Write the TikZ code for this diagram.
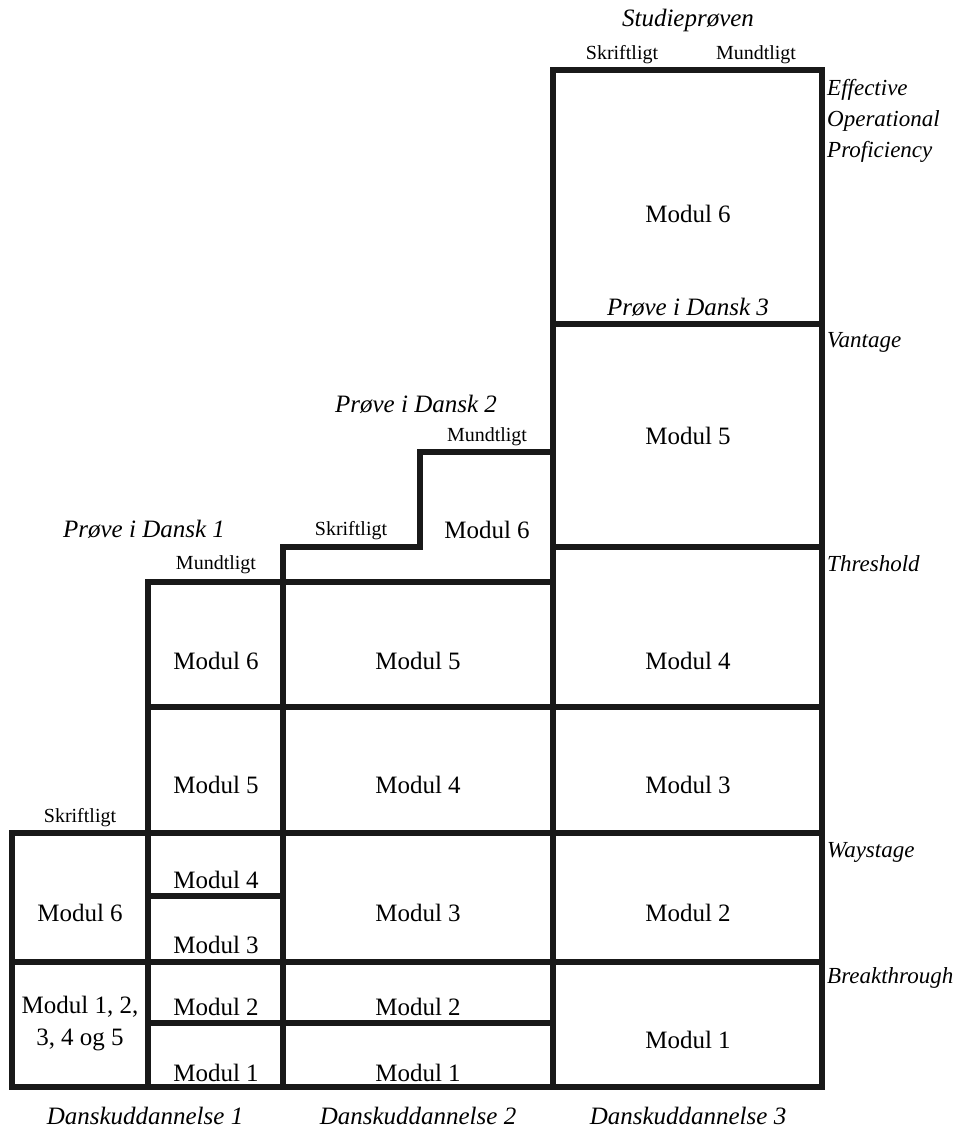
\documentclass[tikz,border=0pt]{standalone}
\usepackage{fontspec}
\setmainfont{Liberation Serif}
\begin{document}
\begin{tikzpicture}[x=1pt,y=-1pt,
  wall/.style={line width=5.5pt,black!90,line cap=rect,line join=miter},
  modtxt/.style={font=\fontsize{25}{32}\selectfont,inner sep=0pt,align=center},
  small/.style={font=\fontsize{20}{24}\selectfont,inner sep=0pt},
  exam/.style={font=\fontsize{25}{30}\selectfont\itshape,inner sep=0pt},
  level/.style={font=\fontsize{23}{31}\selectfont\itshape,inner sep=0pt,anchor=west,align=left}]
\useasboundingbox (0,0) rectangle (958,1131);
% outline
\draw[wall] (12,1087) -- (12,833) -- (148,833) -- (148,582) -- (283,582) -- (283,547)
  -- (420,547) -- (420,452) -- (553,452) -- (553,70) -- (822,70) -- (822,1087) -- cycle;
% inner lines
\draw[wall] (148,833) -- (148,1087);
\draw[wall] (283,582) -- (283,1087);
\draw[wall] (553,452) -- (553,1087);
\draw[wall] (12,962) -- (822,962);
\draw[wall] (148,833) -- (822,833);
\draw[wall] (148,707) -- (822,707);
\draw[wall] (283,582) -- (553,582);
\draw[wall] (553,547) -- (822,547);
\draw[wall] (553,324) -- (822,324);
\draw[wall] (148,896) -- (283,896);
\draw[wall] (148,1023) -- (553,1023);
% D3
\node[exam] (stud) at (688,20) {Studieprøven};
\node[small] (s3) at (622,55) {Skriftligt};
\node[small] (m3) at (756,55) {Mundtligt};
\node[modtxt] (d3m6) at (688,214) {Modul 6};
\node[exam] (p3) at (688,307) {Prøve i Dansk 3};
\node[modtxt] (d3m5) at (688,436) {Modul 5};
\node[modtxt] (d3m4) at (688,661) {Modul 4};
\node[modtxt] (d3m3) at (688,785) {Modul 3};
\node[modtxt] (d3m2) at (688,913) {Modul 2};
\node[modtxt] (d3m1) at (688,1040) {Modul 1};
% D2
\node[exam] (p2) at (416,404) {Prøve i Dansk 2};
\node[small] (m2) at (487,437) {Mundtligt};
\node[small] (s2) at (351,531) {Skriftligt};
\node[modtxt] (d2m6) at (487,530) {Modul 6};
\node[modtxt] (d2m5) at (418,661) {Modul 5};
\node[modtxt] (d2m4) at (418,785) {Modul 4};
\node[modtxt] (d2m3) at (418,913) {Modul 3};
\node[modtxt] (d2m2) at (418,1007) {Modul 2};
\node[modtxt] (d2m1) at (418,1073) {Modul 1};
% D1
\node[exam] (p1) at (144,529) {Prøve i Dansk 1};
\node[small] (m1) at (216,565) {Mundtligt};
\node[small] (s1) at (80,818) {Skriftligt};
\node[modtxt] (d1m6) at (216,661) {Modul 6};
\node[modtxt] (d1m5) at (216,785) {Modul 5};
\node[modtxt] (d1m4) at (216,880) {Modul 4};
\node[modtxt] (d1m3) at (216,945) {Modul 3};
\node[modtxt] (d1m2) at (216,1007) {Modul 2};
\node[modtxt] (d1m1) at (216,1073) {Modul 1};
\node[modtxt] (d1s6) at (80,913) {Modul 6};
\node[modtxt] (d1s15) at (80,1024) {Modul 1, 2,\\3, 4 og 5};
% bottom
\node[exam] (dk1) at (145,1116) {Danskuddannelse 1};
\node[exam] (dk2) at (418,1116) {Danskuddannelse 2};
\node[exam] (dk3) at (688,1116) {Danskuddannelse 3};
% levels
\node[level] (eop) at (827,121) {Effective\\Operational\\Proficiency};
\node[level] (van) at (827,342) {Vantage};
\node[level] (thr) at (827,564) {Threshold};
\node[level] (way) at (827,852) {Waystage};
\node[level] (brk) at (827,978) {Breakthrough};
\end{tikzpicture}
\end{document}
